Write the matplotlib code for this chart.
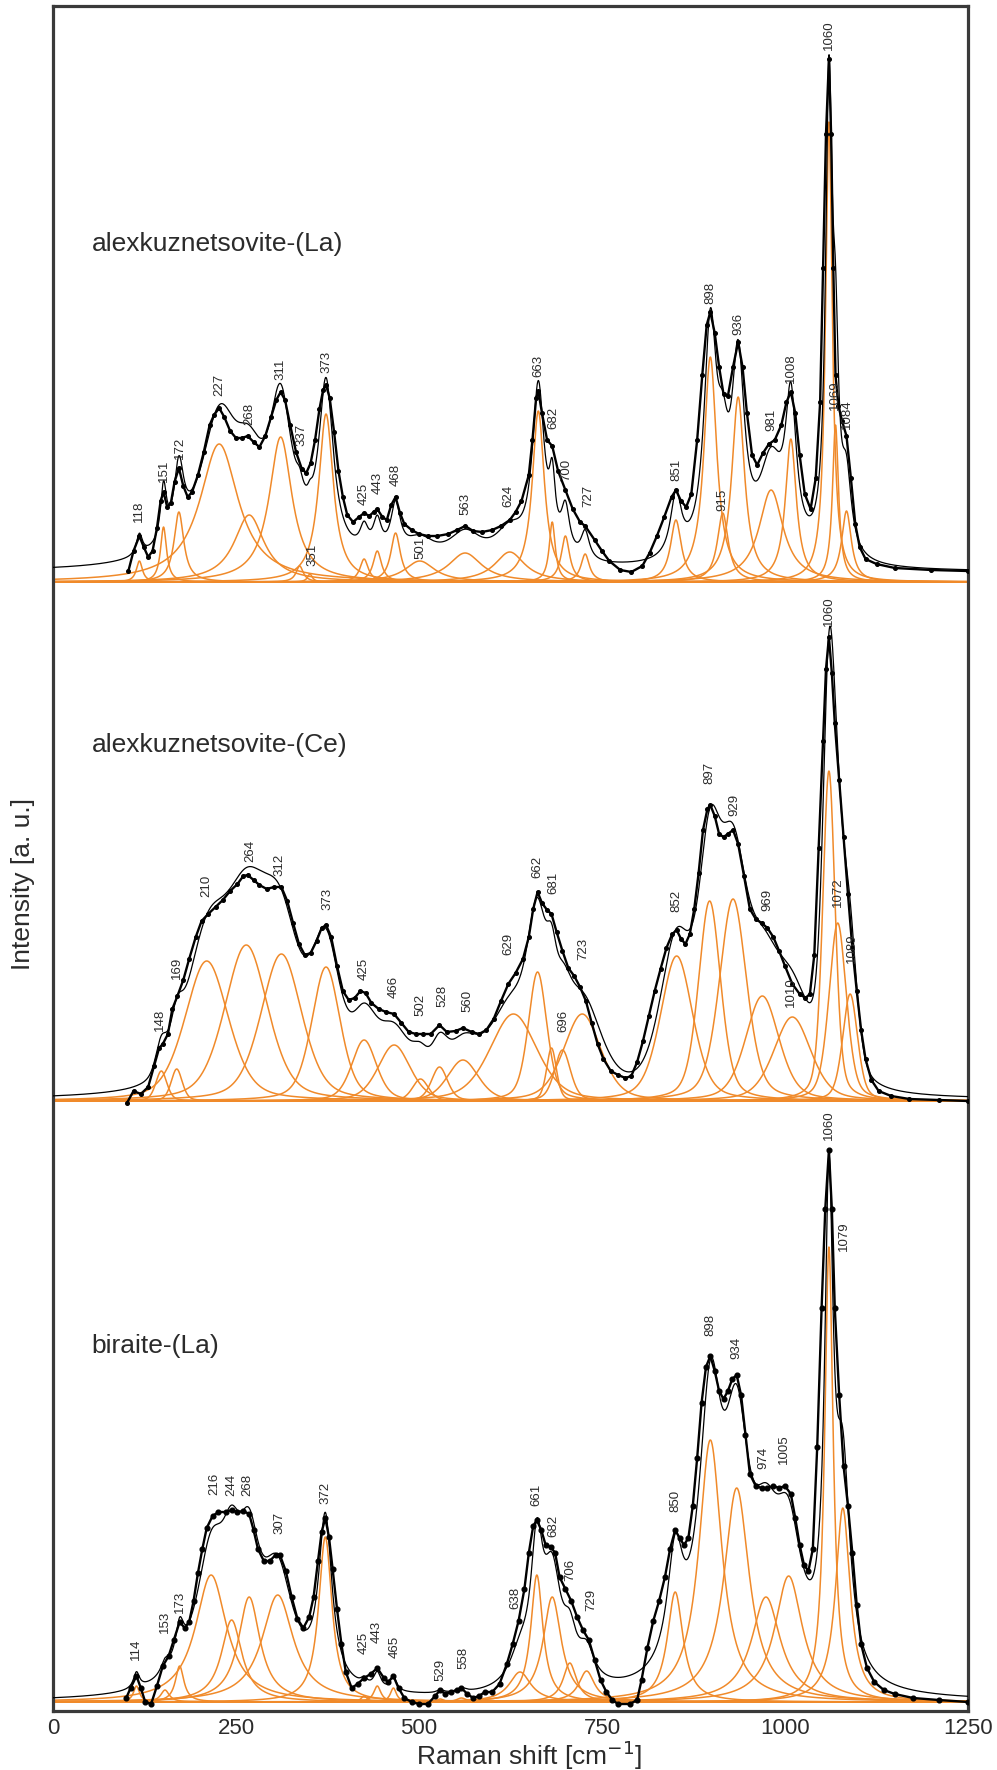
import numpy as np
import matplotlib
matplotlib.use("Agg")
import matplotlib.pyplot as plt

plt.rcParams["font.family"] = ["Liberation Sans", "DejaVu Sans"]
plt.rcParams["mathtext.fontset"] = "custom"
plt.rcParams["mathtext.rm"] = "Liberation Sans"
plt.rcParams["mathtext.it"] = "Liberation Sans"

# =========================================================
# DATA  (heights in arbitrary units above each baseline)
# =========================================================

# ---- alexkuznetsovite-(La) ----
la_x = [103, 110, 118, 124, 130, 136, 142, 147, 151, 156, 161, 166, 172, 178, 184, 190,
        198, 206, 214, 220, 227, 234, 242, 250, 258, 266, 274, 282, 290, 298, 305, 311,
        317, 324, 332, 340, 346, 352, 358, 364, 369, 373, 378, 384, 390, 396, 402, 410,
        418, 425, 432, 438, 443, 450, 456, 462, 468, 474, 480, 490, 500, 512, 525, 540,
        552, 563, 574, 586, 600, 612, 624, 632, 640, 650, 655, 660, 663, 668, 675, 682,
        690, 700, 710, 720, 727, 740, 750, 760, 775, 790, 805, 815, 825, 835, 845, 851,
        858, 865, 872, 880, 887, 893, 898, 904, 910, 916, 922, 929, 936, 942, 948, 955,
        962, 970, 978, 986, 995, 1002, 1008, 1014, 1020, 1027, 1035, 1042, 1048, 1052,
        1056, 1060, 1063, 1066, 1069, 1073, 1078, 1084, 1090, 1096, 1102, 1110, 1125,
        1150, 1200, 1250]
la_y = [11, 31, 46, 35, 25, 31, 54, 81, 90, 75, 79, 100, 114, 96, 85, 90,
        107, 130, 157, 167, 174, 165, 151, 144, 144, 146, 140, 135, 146, 165, 182, 190,
        182, 157, 130, 113, 109, 119, 142, 173, 192, 197, 184, 150, 111, 85, 67, 60,
        65, 69, 66, 70, 73, 65, 62, 77, 85, 69, 58, 52, 48, 46, 46, 48,
        52, 56, 51, 50, 52, 56, 62, 70, 81, 107, 142, 184, 191, 169, 142, 136,
        111, 92, 73, 60, 56, 42, 31, 21, 12, 10, 16, 29, 46, 65, 85, 92,
        81, 75, 88, 142, 207, 257, 270, 249, 215, 188, 186, 215, 240, 215, 169, 127,
        117, 129, 138, 142, 157, 180, 190, 169, 127, 88, 73, 104, 180, 314,
        448, 523, 448, 314, 207, 176, 161, 146, 104, 58, 35, 23, 18,
        14, 12, 11]

la_pos = [118, 151, 172, 227, 268, 311, 337, 351, 373, 425, 443, 468, 501, 563, 624,
          663, 682, 700, 727, 851, 898, 915, 936, 981, 1008, 1060, 1069, 1084]
la_amp = [21, 55, 70, 138, 67, 145, 16, 8, 168, 23, 31, 49, 21, 29, 30,
          171, 60, 46, 28, 62, 225, 69, 185, 92, 143, 460, 157, 71]
la_fwhm = [10, 10, 16, 64, 50, 38, 12, 8, 24, 14, 14, 16, 50, 55, 50,
           20, 10, 14, 14, 18, 21, 18, 21, 40, 18, 11, 10, 16]
la_lab_x = [118, 151, 173, 227, 268, 311, 340, 354, 373, 424, 443, 468, 502, 563, 622,
            663, 683, 701, 731, 852, 898, 915, 936, 981, 1008, 1060, 1068, 1085]
la_lab_y = [60, 100, 123, 186, 157, 202, 136, 16, 209, 77, 88, 96, 23, 67, 75,
            205, 153, 101, 75, 101, 278, 71, 247, 151, 199, 532, 172, 153]
la_bg = 10

# ---- alexkuznetsovite-(Ce) ----
ce_x = [101, 110, 120, 130, 138, 145, 150, 157, 163, 170, 178, 186, 195, 203, 212, 222,
        232, 242, 252, 260, 266, 274, 282, 292, 302, 312, 320, 328, 336, 344, 352, 360,
        367, 373, 380, 388, 396, 404, 412, 420, 427, 435, 445, 455, 466, 476, 486, 496,
        506, 516, 528, 538, 550, 560, 572, 582, 592, 602, 612, 622, 632, 642, 650, 656,
        662, 668, 675, 681, 688, 696, 704, 712, 720, 728, 736, 744, 752, 762, 772, 782,
        790, 798, 806, 814, 822, 830, 838, 846, 852, 858, 864, 870, 876, 882, 888, 894,
        898, 904, 910, 916, 922, 929, 936, 944, 952, 960, 968, 976, 984, 992, 1000, 1010,
        1020, 1028, 1034, 1040, 1046, 1052, 1056, 1060, 1064, 1068, 1074, 1080, 1086,
        1092, 1098, 1104, 1110, 1118, 1128, 1145, 1170, 1210, 1250]
ce_y = [-2, 10, 7, 14, 35, 53, 57, 67, 92, 105, 121, 142, 164, 180, 187, 194,
        201, 210, 217, 225, 226, 221, 216, 212, 214, 214, 200, 178, 157, 146, 148, 160,
        173, 176, 164, 135, 110, 101, 103, 110, 108, 98, 92, 89, 87, 78, 69, 67,
        67, 67, 76, 69, 70, 73, 69, 67, 71, 82, 100, 117, 128, 142, 164, 192,
        209, 198, 191, 187, 169, 150, 133, 125, 114, 100, 78, 57, 42, 30, 26, 23,
        25, 39, 60, 85, 110, 132, 153, 167, 171, 162, 157, 167, 192, 228, 271, 292,
        296, 285, 267, 264, 267, 271, 257, 225, 192, 182, 178, 173, 164, 150, 135, 117,
        107, 103, 107, 146, 253, 360, 432, 464, 428, 378, 321, 264, 207,
        153, 110, 71, 42, 21, 10, 5, 2, 1, 0]

ce_pos = [148, 169, 210, 264, 312, 373, 425, 466, 502, 528, 560, 629, 662, 681, 696,
          723, 852, 897, 929, 969, 1010, 1060, 1072, 1089]
ce_amp = [30, 32, 140, 156, 147, 134, 61, 56, 22, 34, 41, 87, 129, 53, 51,
          87, 145, 200, 202, 105, 84, 330, 178, 107]
ce_fwhm = [18, 18, 70, 70, 66, 46, 40, 52, 26, 26, 50, 76, 30, 16, 26,
           60, 52, 36, 44, 54, 60, 20, 28, 24]
ce_lab_x = [146, 170, 210, 270, 309, 375, 425, 466, 502, 532, 566, 622, 662, 683, 697,
            725, 852, 897, 931, 976, 1008, 1060, 1073, 1091]
ce_lab_y = [70, 122, 204, 239, 225, 191, 121, 103, 85, 94, 89, 146, 223, 207, 69,
            141, 189, 317, 285, 190, 94, 475, 194, 138]
ce_bg = 1

# ---- biraite-(La) ----
bi_x = [100, 106, 114, 120, 126, 134, 142, 150, 158, 165, 173, 180, 186, 192, 198, 204,
        210, 218, 226, 236, 244, 252, 260, 268, 274, 280, 288, 296, 304, 310, 318, 326,
        334, 342, 350, 356, 362, 367, 372, 377, 382, 388, 394, 400, 408, 416, 425, 434,
        443, 452, 458, 465, 472, 480, 490, 500, 512, 522, 529, 536, 544, 552, 558, 566,
        574, 582, 590, 600, 610, 620, 628, 636, 644, 650, 656, 661, 667, 673, 680, 686,
        692, 700, 708, 716, 724, 732, 740, 748, 756, 764, 772, 788, 798, 804, 812, 820,
        828, 836, 843, 850, 856, 862, 868, 874, 880, 886, 892, 898, 904, 910, 916, 922,
        928, 934, 940, 946, 952, 960, 968, 976, 984, 992, 1000, 1008, 1014, 1020, 1026,
        1032, 1038, 1044, 1050, 1055, 1060, 1064, 1068, 1074, 1080, 1086, 1092, 1098,
        1104, 1112, 1122, 1135, 1150, 1175, 1210, 1250]
bi_y = [4, 14, 26, 14, 0, -2, 16, 36, 46, 62, 80, 74, 80, 101, 129, 153,
        174, 186, 190, 190, 192, 190, 191, 188, 172, 153, 141, 141, 147, 147, 131, 105,
        83, 74, 85, 105, 141, 170, 184, 165, 133, 93, 58, 30, 14, 18, 24, 28,
        34, 24, 20, 26, 14, 4, 0, -2, -2, 6, 12, 8, 10, 12, 14, 8,
        4, 6, 10, 10, 18, 38, 58, 81, 113, 149, 176, 182, 172, 157, 155, 149,
        125, 113, 101, 85, 72, 62, 42, 22, 10, 2, -2, -2, 2, 22, 54, 81,
        101, 125, 153, 172, 164, 157, 164, 196, 244, 299, 335, 346, 331, 311, 303, 311,
        323, 327, 307, 267, 228, 216, 214, 214, 216, 214, 216, 208, 184, 157, 137,
        131, 153, 255, 394, 493, 552, 493, 394, 307, 236, 196, 149, 97,
        58, 34, 20, 12, 8, 4, 2, 0]

bi_pos = [114, 153, 173, 216, 244, 268, 307, 372, 425, 443, 465, 529, 558, 638, 661,
          682, 706, 729, 850, 898, 934, 974, 1005, 1060, 1079]
bi_amp = [16, 12, 36, 127, 82, 105, 107, 165, 6, 16, 14, 3, 4, 30, 127,
          105, 39, 31, 110, 262, 214, 105, 126, 455, 194]
bi_fwhm = [10, 14, 14, 52, 34, 36, 52, 22, 10, 12, 10, 12, 16, 36, 20,
           30, 22, 26, 26, 38, 42, 48, 46, 14, 24]
bi_lab_x = [114, 153, 174, 221, 244, 266, 310, 372, 425, 442, 467, 529, 560, 632, 661,
            683, 707, 735, 850, 898, 934, 970, 998, 1060, 1080]
bi_lab_y = [42, 69, 89, 207, 206, 206, 168, 198, 48, 59, 44, 21, 33, 93, 196,
            165, 121, 91, 190, 366, 343, 233, 238, 562, 451]
bi_bg = 0

titulos = ["alexkuznetsovite-(La)", "alexkuznetsovite-(Ce)", "biraite-(La)"]

# =========================================================
# LAYOUT
# =========================================================

COR_LARANJA = "#F08A2A"
COR_TEXTO = "#2b2b2b"

offsets = [1129, 610, 9]          # baseline of each spectrum
titulo_y = [1467, 966, 365]

def lorentz(x, p, a, w):
    return a / (1.0 + ((x - p) / (w / 2.0)) ** 2)

def pvoigt(x, p, a, w, eta=0.4):
    g = np.exp(-4 * np.log(2) * (x - p) ** 2 / w ** 2)
    return a * (eta * lorentz(x, p, 1.0, w) + (1 - eta) * g)

paineis = [
    (la_x, la_y, la_pos, la_amp, la_fwhm, la_lab_x, la_lab_y, la_bg, lorentz, 2.6),
    (ce_x, ce_y, ce_pos, ce_amp, ce_fwhm, ce_lab_x, ce_lab_y, ce_bg, pvoigt, 2.6),
    (bi_x, bi_y, bi_pos, bi_amp, bi_fwhm, bi_lab_x, bi_lab_y, bi_bg, lorentz, 3.4),
]

fig = plt.figure(figsize=(9.97, 17.70), dpi=100)
ax = fig.add_axes([53 / 997, 59 / 1770, 915 / 997, 1705 / 1770])

xx = np.linspace(0, 1250, 2501)

for i, (dx, dy, pos, amp, fw, lx, ly, bg, perfil, ms) in enumerate(paineis):
    off = offsets[i]
    soma = np.zeros_like(xx) + bg
    for p, a, w in zip(pos, amp, fw):
        comp = perfil(xx, p, a, w)
        soma += comp
        ax.plot(xx, comp + off, color=COR_LARANJA, lw=1.1, zorder=2)
    ax.plot(xx, soma + off, color="black", lw=0.9, zorder=3)
    ax.plot(dx, np.array(dy) + off, color="black", lw=1.7, marker="o",
            markersize=ms, zorder=4)
    for p, tx, ty in zip(pos, lx, ly):
        ax.text(tx, ty + off, str(p), rotation=90, ha="center", va="bottom",
                fontsize=9.5, color=COR_TEXTO, zorder=5)
    ax.text(53, titulo_y[i], titulos[i], fontsize=19, color=COR_TEXTO,
            ha="left", va="center")

ax.set_xlim(0, 1250)
ax.set_ylim(0, 1705)
ax.set_xticks([0, 250, 500, 750, 1000, 1250])
ax.set_yticks([])
ax.tick_params(axis="x", length=0, pad=5, labelsize=16, colors=COR_TEXTO)
for s in ax.spines.values():
    s.set_linewidth(2.3)
    s.set_color("#3a3a3a")

fig.text(529 / 997, 1 - 1756 / 1770, "Raman shift [cm$^{\\mathsf{-1}}$]", fontsize=19,
         ha="center", va="center", color=COR_TEXTO)
fig.text(23 / 997, 1 - 884 / 1770, "Intensity [a. u.]", fontsize=19, rotation=90,
         ha="center", va="center", color=COR_TEXTO)

fig.savefig("out.png", dpi=100, facecolor="white")
